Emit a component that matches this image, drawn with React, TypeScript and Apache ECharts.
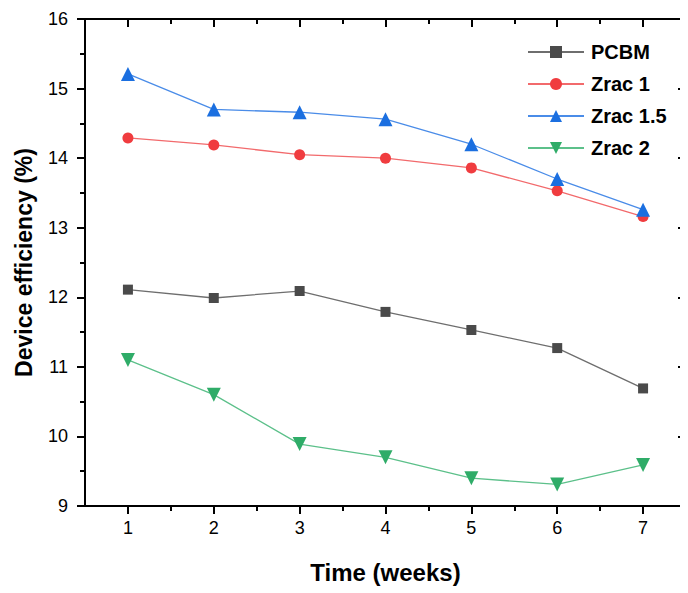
import React, { useEffect, useRef } from "react";
import * as echarts from "echarts";

// Device efficiency over time for each acceptor composition
const weeks = [1, 2, 3, 4, 5, 6, 7];
const pcbm = [12.11, 11.99, 12.09, 11.79, 11.53, 11.27, 10.69];
const zrac1 = [14.29, 14.19, 14.05, 14.0, 13.86, 13.53, 13.16];
const zrac15 = [15.21, 14.7, 14.66, 14.56, 14.2, 13.7, 13.26];
const zrac2 = [11.1, 10.6, 9.89, 9.7, 9.4, 9.31, 9.59];

const majorX = [1, 2, 3, 4, 5, 6, 7];
const minorX = [1.5, 2.5, 3.5, 4.5, 5.5, 6.5];

const FONT = "Arial, 'Liberation Sans', sans-serif";

const pairs = (ys: number[]) => weeks.map((w, i) => [w, ys[i]]);

export default function App() {
  const ref = useRef<HTMLDivElement>(null);

  useEffect(() => {
    if (!ref.current) return;
    const chart = echarts.init(ref.current, null, { renderer: "svg" });

    const axisLine = { show: true, onZero: false, lineStyle: { color: "#000", width: 2 } };
    const baseX = { type: "value", min: 0.5, max: 7.5, splitLine: { show: false } };

    const mkSeries = (name: string, ys: number[], symbol: string, size: number, color: string, lineColor: string) => ({
      name,
      type: "line",
      xAxisIndex: 0,
      yAxisIndex: 0,
      data: pairs(ys),
      symbol,
      symbolSize: size,
      itemStyle: { color },
      lineStyle: { color: lineColor, width: 1.3 },
    });

    chart.setOption({
      animation: false,
      backgroundColor: "#fff",
      textStyle: { fontFamily: FONT },
      grid: { left: 85, right: 2, top: 19, bottom: 87, containLabel: false },
      legend: {
        left: 522,
        top: 37,
        orient: "vertical",
        itemWidth: 56,
        itemHeight: 15,
        itemGap: 12,
        textStyle: {
          fontFamily: FONT,
          fontSize: 20,
          fontWeight: "bold",
          color: "#000",
          padding: [0, 0, 0, 2],
        },
        data: ["PCBM", "Zrac 1", "Zrac 1.5", "Zrac 2"],
      },
      xAxis: [
        {
          ...baseX,
          position: "bottom",
          axisLine,
          axisTick: { show: true, inside: false, length: 8, customValues: majorX, lineStyle: { color: "#000", width: 2 } },
          axisLabel: { show: true, customValues: majorX, fontSize: 18, color: "#000", fontFamily: FONT, margin: 13 },
          name: "Time (weeks)",
          nameLocation: "middle",
          nameGap: 54,
          nameTextStyle: { fontSize: 24, fontWeight: "bold", color: "#000", fontFamily: FONT },
        },
        {
          ...baseX,
          position: "bottom",
          axisLine: { show: false },
          axisTick: { show: true, inside: false, length: 5, customValues: minorX, lineStyle: { color: "#000", width: 2 } },
          axisLabel: { show: false },
        },
        {
          ...baseX,
          position: "top",
          axisLine,
          axisTick: { show: true, inside: true, length: 8, customValues: majorX, lineStyle: { color: "#000", width: 2 } },
          axisLabel: { show: false },
        },
        {
          ...baseX,
          position: "top",
          axisLine: { show: false },
          axisTick: { show: true, inside: true, length: 5, customValues: minorX, lineStyle: { color: "#000", width: 2 } },
          axisLabel: { show: false },
        },
      ],
      yAxis: [
        {
          type: "value",
          position: "left",
          min: 9,
          max: 16,
          interval: 1,
          axisLine,
          axisTick: { show: true, inside: false, length: 8, lineStyle: { color: "#000", width: 2 } },
          minorTick: { show: true, splitNumber: 2, length: 5, lineStyle: { color: "#000", width: 2 } },
          splitLine: { show: false },
          axisLabel: { fontSize: 18, color: "#000", fontFamily: FONT, margin: 17 },
          name: "Device efficiency (%)",
          nameLocation: "middle",
          nameGap: 50,
          nameTextStyle: { fontSize: 23, fontWeight: "bold", color: "#000", fontFamily: FONT },
        },
        {
          type: "value",
          position: "right",
          min: 9,
          max: 16,
          interval: 1,
          axisLine,
          axisTick: { show: true, inside: true, length: 8, lineStyle: { color: "#000", width: 2 } },
          minorTick: { show: true, splitNumber: 2, length: 5, lineStyle: { color: "#000", width: 2 } },
          splitLine: { show: false },
          axisLabel: { show: false },
        },
      ],
      series: [
        mkSeries("PCBM", pcbm, "rect", 10, "#4a4a4a", "#6e6e6e"),
        mkSeries("Zrac 1", zrac1, "circle", 11, "#f03c3f", "#f26a6c"),
        mkSeries("Zrac 1.5", zrac15, "triangle", 14, "#1b6fe0", "#4a8ce8"),
        mkSeries("Zrac 2", zrac2, "path://M0,0 L10,0 L5,9 Z", 14, "#2fac68", "#5cc08a"),
      ],
    });

    return () => chart.dispose();
  }, []);

  return <div ref={ref} style={{ width: 688, height: 593, marginLeft: -8, marginTop: -8 }} />;
}
